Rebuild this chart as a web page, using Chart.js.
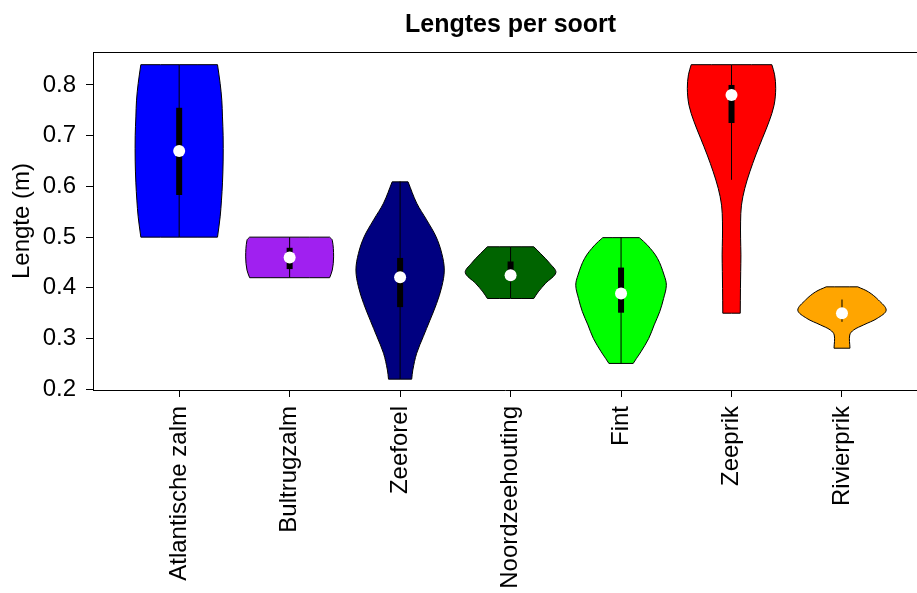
<!DOCTYPE html>
<html><head><meta charset="utf-8">
<script src="https://cdn.jsdelivr.net/npm/chart.js@4/dist/chart.umd.min.js"></script>
<style>html,body{margin:0;padding:0;background:#fff;}#wrap{width:917px;height:593px;}</style>
</head><body><div id="wrap"><canvas id="c" width="917" height="593"></canvas></div>
<script>
const titleText = 'Lengtes per soort';
const yAxisTitle = 'Lengte (m)';
const species = ['Atlantische zalm','Bultrugzalm','Zeeforel','Noordzeehouting','Fint','Zeeprik','Rivierprik'];
const violinColors = ['#0000FF','#A020F0','#000080','#006400','#00FF00','#FF0000','#FFA500'];
const yTickValues = [0.2,0.3,0.4,0.5,0.6,0.7,0.8];

// summary statistics per species (m)
const medians     = [0.670, 0.460, 0.421, 0.425, 0.389, 0.780, 0.350];
const quartile1   = [0.583, 0.437, 0.362, 0.420, 0.351, 0.725, 0.347];
const quartile3   = [0.755, 0.479, 0.459, 0.452, 0.440, 0.800, 0.353];
const whiskerLow  = [0.500, 0.420, 0.220, 0.380, 0.250, 0.613, 0.333];
const whiskerHigh = [0.840, 0.500, 0.610, 0.481, 0.500, 0.840, 0.377];

// violin outlines: length levels and half-widths (in category units)
const levelsAtlantischeZalm = [0.500,0.540,0.573,0.607,0.650,0.700,0.737,0.770,0.803,0.840];
const widthsAtlantischeZalm = [0.347,0.371,0.383,0.392,0.398,0.398,0.392,0.386,0.371,0.347];
const levelsBultrugzalm = [0.420,0.435,0.461,0.494,0.500];
const widthsBultrugzalm = [0.362,0.386,0.398,0.386,0.362];
const levelsZeeforel = [0.220,0.238,0.271,0.304,0.336,0.369,0.402,0.435,0.468,0.501,0.534,0.567,0.609];
const widthsZeeforel = [0.105,0.115,0.150,0.210,0.270,0.330,0.377,0.400,0.377,0.325,0.240,0.150,0.072];
const levelsNoordzeehouting = [0.379,0.392,0.409,0.430,0.448,0.468,0.481];
const widthsNoordzeehouting = [0.210,0.250,0.317,0.410,0.356,0.270,0.210];
const levelsFint = [0.251,0.261,0.274,0.300,0.327,0.353,0.379,0.405,0.425,0.458,0.484,0.499];
const widthsFint = [0.110,0.140,0.180,0.250,0.300,0.350,0.385,0.410,0.390,0.330,0.240,0.165];
const levelsZeeprik = [0.350,0.399,0.432,0.465,0.498,0.530,0.563,0.596,0.629,0.662,0.695,0.728,0.760,0.793,0.820,0.840];
const widthsZeeprik = [0.079,0.081,0.083,0.085,0.082,0.082,0.090,0.120,0.166,0.220,0.280,0.340,0.385,0.400,0.390,0.365];
const levelsRivierprik = [0.281,0.307,0.317,0.327,0.340,0.356,0.376,0.392,0.402];
const widthsRivierprik = [0.072,0.070,0.106,0.196,0.320,0.400,0.330,0.240,0.143];

const violinLevels = [levelsAtlantischeZalm, levelsBultrugzalm, levelsZeeforel, levelsNoordzeehouting, levelsFint, levelsZeeprik, levelsRivierprik];
const violinWidths = [widthsAtlantischeZalm, widthsBultrugzalm, widthsZeeforel, widthsNoordzeehouting, widthsFint, widthsZeeprik, widthsRivierprik];

function outline(i) {
  const c = i + 1, ys = violinLevels[i], ws = violinWidths[i], n = ys.length - 1;
  const pts = [];
  const push = (x, y, dup) => { pts.push({x, y}); if (dup) pts.push({x, y}); };
  for (let k = 0; k <= n; k++) push(c + ws[k], ys[k], k === 0 || k === n);
  for (let k = n; k >= 0; k--) push(c - ws[k], ys[k], k === 0 || k === n);
  push(c + ws[0], ys[0], true);
  return pts;
}

const datasets = [];
species.forEach((s, i) => {
  datasets.push({label: s, data: outline(i), showLine: true, fill: 'shape', backgroundColor: violinColors[i],
    borderColor: '#000', borderWidth: 1, pointRadius: 0, tension: 0.35, order: 3});
  datasets.push({data: [{x: i + 1, y: whiskerLow[i]}, {x: i + 1, y: whiskerHigh[i]}], showLine: true, fill: false,
    borderColor: '#000', borderWidth: 1, pointRadius: 0, order: 2});
  datasets.push({data: [{x: i + 1, y: quartile1[i]}, {x: i + 1, y: quartile3[i]}], showLine: true, fill: false,
    borderColor: '#000', borderWidth: 6, borderCapStyle: 'butt', pointRadius: 0, order: 1});
  datasets.push({data: [{x: i + 1, y: medians[i]}], showLine: false, pointRadius: 6, pointBorderWidth: 0,
    pointBackgroundColor: '#fff', pointBorderColor: '#fff', order: 0});
});

const FONT = '"Liberation Sans", Arial, sans-serif';
const frameAndTitle = {
  id: 'frameAndTitle',
  afterDraw(chart) {
    const {ctx, chartArea, scales} = chart;
    ctx.save();
    ctx.strokeStyle = '#000'; ctx.lineWidth = 1;
    ctx.beginPath();
    ctx.moveTo(chartArea.left, Math.round(chartArea.top) + 0.5);
    ctx.lineTo(chartArea.right, Math.round(chartArea.top) + 0.5);
    ctx.stroke();
    const cx = (scales.x.getPixelForValue(0.22) + scales.x.getPixelForValue(7.78)) / 2;
    ctx.fillStyle = '#000'; ctx.font = 'bold 25px ' + FONT;
    ctx.textAlign = 'center'; ctx.textBaseline = 'alphabetic';
    ctx.fillText(titleText, cx, 32);
    ctx.restore();
  }
};

new Chart(document.getElementById('c'), {
  type: 'scatter',
  data: {datasets},
  plugins: [frameAndTitle],
  options: {
    responsive: false, animation: false, devicePixelRatio: 1, events: [],
    layout: {autoPadding: false, padding: {top: 52, left: 0, right: 0, bottom: 0}},
    plugins: {legend: {display: false}, tooltip: {enabled: false}, title: {display: false}},
    scales: {
      x: {
        type: 'linear', min: 0.22, max: 7.679,
        afterBuildTicks: s => { s.ticks = species.map((_, i) => ({value: i + 1})); },
        afterFit: s => { s.height = 203; },
        ticks: {callback: v => species[Math.round(v) - 1], font: {family: FONT, size: 24}, color: '#000',
          minRotation: 90, maxRotation: 90, autoSkip: false, padding: 9},
        grid: {drawOnChartArea: false, drawTicks: true, tickLength: 7, tickColor: '#000', color: '#000'},
        border: {display: true, color: '#000', width: 1}
      },
      y: {
        type: 'linear', min: 0.1986, max: 0.865,
        afterBuildTicks: s => { s.ticks = yTickValues.map(v => ({value: v})); },
        afterFit: s => { s.width = 93; },
        ticks: {callback: v => v.toFixed(1), font: {family: FONT, size: 24}, color: '#000', padding: 10},
        grid: {drawOnChartArea: false, drawTicks: true, tickLength: 7, tickColor: '#000', color: '#000'},
        border: {display: true, color: '#000', width: 1},
        title: {display: true, text: yAxisTitle, color: '#000', font: {family: FONT, size: 24}, padding: {top: 8, bottom: 0}}
      }
    }
  }
});
</script></body></html>
